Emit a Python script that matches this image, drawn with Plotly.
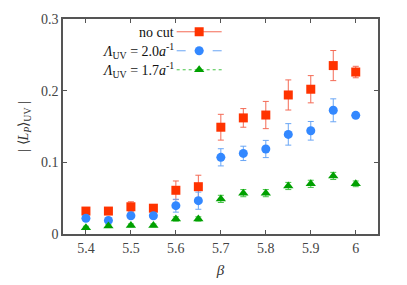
import plotly.graph_objects as go

beta = [5.4, 5.45, 5.5, 5.55, 5.6, 5.65, 5.7, 5.75, 5.8, 5.85, 5.9, 5.95, 6.0]

nocut = [0.032, 0.032, 0.038, 0.036, 0.061, 0.066, 0.149, 0.162, 0.166, 0.194, 0.202, 0.235, 0.226]
nocut_err = [0.005, 0.003, 0.007, 0.004, 0.013, 0.016, 0.018, 0.013, 0.019, 0.021, 0.019, 0.021, 0.008]

uv20 = [0.022, 0.019, 0.0255, 0.0255, 0.0395, 0.0465, 0.107, 0.1125, 0.1186, 0.139, 0.144, 0.1726, 0.1656]
uv20_err = [0.003, 0.003, 0.003, 0.003, 0.009, 0.012, 0.012, 0.010, 0.012, 0.015, 0.013, 0.016, 0.003]

uv17 = [0.0088, 0.011, 0.012, 0.012, 0.021, 0.021, 0.049, 0.057, 0.057, 0.067, 0.070, 0.081, 0.070]
uv17_err = [0.002, 0.002, 0.002, 0.002, 0.003, 0.003, 0.005, 0.005, 0.005, 0.005, 0.005, 0.005, 0.004]

labels = ["no cut",
          "<i>Λ</i><sub>UV</sub> = 2.0<i>a</i><sup>-1</sup>",
          "<i>Λ</i><sub>UV</sub> = 1.7<i>a</i><sup>-1</sup>"]

FONT = "Liberation Serif"
red, blue, green = "#ff3300", "#3388ff", "#00a000"
red_e, blue_e, green_e = "#f46a55", "#6aa6f5", "#44c444"

fig = go.Figure()
series = [
    (nocut, nocut_err, red, red_e, "square", "solid", 9),
    (uv20, uv20_err, blue, blue_e, "circle", "dash", 9),
    (uv17, uv17_err, green, green_e, "triangle-up", "dot", 9),
]
for vals, errs, col, ecol, sym, dash, sz in series:
    fig.add_trace(go.Scatter(
        x=beta, y=vals, mode="markers",
        marker=dict(symbol=sym, size=sz, color=col, line=dict(width=0)),
        error_y=dict(type="data", array=errs, visible=True, color=ecol, thickness=1, width=3),
        showlegend=False,
    ))
for vals, errs, col, ecol, sym, dash, sz in series:
    fig.add_trace(go.Scatter(
        x=[None], y=[None], mode="lines+markers", name=" ",
        marker=dict(symbol=sym, size=sz, color=col, line=dict(width=0)),
        line=dict(color=ecol, width=1, dash=dash),
        showlegend=True,
    ))

ys = [0.9395, 0.851, 0.763]
for lab, yy in zip(labels, ys):
    fig.add_annotation(x=0.36, y=yy, xref="paper", yref="paper", text=lab,
                       showarrow=False, xanchor="right", yanchor="middle",
                       font=dict(family=FONT, size=14, color="#111"))

axis_common = dict(showline=True, linecolor="#555", linewidth=1.5, mirror="ticks",
                   ticks="inside", ticklen=4, tickcolor="#555", tickwidth=1,
                   showgrid=False, zeroline=False, automargin=False,
                   tickfont=dict(family=FONT, size=14, color="#444"))

fig.update_layout(
    width=407, height=285,
    margin=dict(l=63, r=29, t=19, b=51),
    plot_bgcolor="white", paper_bgcolor="white",
    xaxis=dict(range=[5.349, 6.0495], tickvals=[5.4, 5.5, 5.6, 5.7, 5.8, 5.9, 6.0],
               ticktext=["5.4", "5.5", "5.6", "5.7", "5.8", "5.9", "6"],
               title=dict(text="<i>β</i>", font=dict(family=FONT, size=15, color="#333"), standoff=10),
               **axis_common),
    yaxis=dict(range=[0, 0.3], tickvals=[0, 0.1, 0.2, 0.3], ticktext=["0", "0.1", "0.2", "0.3"],
               title=dict(text="| ⟨<i>L</i><sub><i>P</i></sub>⟩<sub>UV</sub> |",
                          font=dict(family=FONT, size=14, color="#333"), standoff=9),
               **axis_common),
    legend=dict(x=0.345, y=1.008, xanchor="left", yanchor="top", bgcolor="rgba(0,0,0,0)",
                font=dict(family=FONT, size=7), itemwidth=45, tracegroupgap=0,
                borderwidth=0),
    font=dict(family=FONT),
)

fig.write_html("out.html", config={"displayModeBar": False},
               post_script="document.body.style.margin='0';")
